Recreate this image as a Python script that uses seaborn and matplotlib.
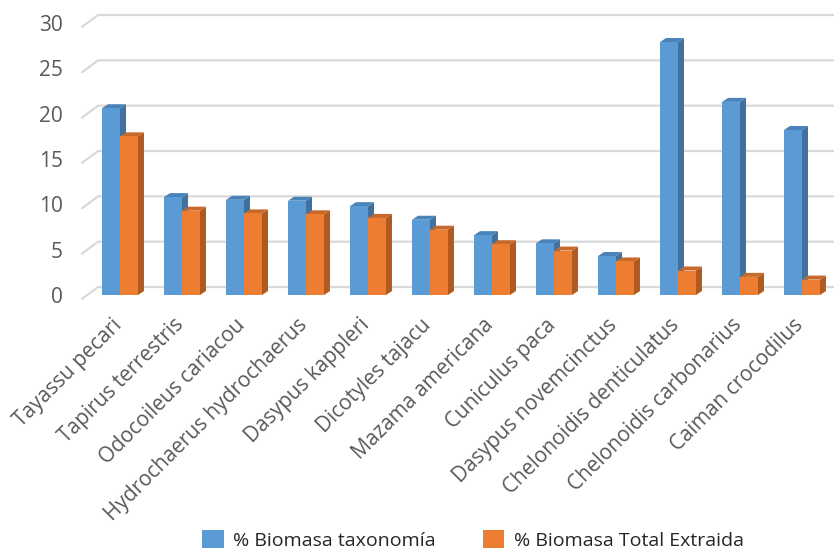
import matplotlib
matplotlib.use("Agg")
import matplotlib.pyplot as plt
import seaborn as sns
import pandas as pd
from matplotlib.patches import Polygon, Patch
from matplotlib.lines import Line2D
from matplotlib.transforms import ScaledTranslation

especies = [
    "Tayassu pecari", "Tapirus terrestris", "Odocoileus cariacou",
    "Hydrochaerus hydrochaerus", "Dasypus kappleri", "Dicotyles tajacu",
    "Mazama americana", "Cuniculus paca", "Dasypus novemcinctus",
    "Chelonoidis denticulatus", "Chelonoidis carbonarius", "Caiman crocodilus",
]
biomasa_taxonomia = [20.6, 10.8, 10.5, 10.4, 9.8, 8.3, 6.6, 5.7, 4.3, 27.9, 21.3, 18.2]
biomasa_extraida = [17.5, 9.3, 9.0, 8.9, 8.5, 7.2, 5.6, 4.9, 3.7, 2.7, 2.0, 1.7]
series = ["% Biomasa taxonomía", "% Biomasa Total Extraida"]
y_ticks = [0, 5, 10, 15, 20, 25, 30]

front = {series[0]: "#5B9BD5", series[1]: "#ED7D31"}
side = {series[0]: "#41719C", series[1]: "#AE5A21"}
top = {series[0]: "#4A83BA", series[1]: "#C8682A"}
text_color = "#595959"
grid_color = "#D9D9D9"

df = pd.DataFrame({
    "especie": especies * 2,
    "serie": [series[0]] * len(especies) + [series[1]] * len(especies),
    "valor": biomasa_taxonomia + biomasa_extraida,
})

sns.set_theme(style="white")
plt.rcParams["font.family"] = ["Open Sans", "DejaVu Sans"]

W, H = 834, 553
fig = plt.figure(figsize=(W / 100, H / 100), dpi=100)
ax_left, ax_right = 89, 833
ax_top, ax_bottom = 23, 295
ax = fig.add_axes([ax_left / W, 1 - ax_bottom / H,
                   (ax_right - ax_left) / W, (ax_bottom - ax_top) / H])

sns.barplot(data=df, x="especie", y="valor", hue="serie", palette=front,
            width=0.58, dodge=True, ax=ax, legend=False, saturation=1,
            linewidth=0, zorder=3)

ax.set_xlim(-0.5, len(especies) - 0.5)
ax.set_ylim(0, 30)
for s in ax.spines.values():
    s.set_visible(False)
ax.grid(False)
ax.set_xlabel("")
ax.set_ylabel("")

# back-wall gridlines with a short perspective edge on the left
DX, DY = 16, 12          # depth of the floor/wall in pixels
GY = 8                   # back wall sits a few pixels above the bar fronts
for v in y_ticks:
    x0, y0 = ax.transData.transform((ax.get_xlim()[0], v))
    yb = y0 + GY
    ax.add_line(Line2D([x0 - 7, x0 - 7 + DX, W + 5], [yb - DY, yb, yb],
                       transform=None, color=grid_color, lw=1.6,
                       zorder=1, clip_on=False))

# 3D side and top faces computed from each drawn bar
d_x, d_y = 6, 4
for ci, cont in enumerate(ax.containers):
    name = series[ci]
    for bar in cont:
        (bx0, by0), (bx1, by1) = ax.transData.transform(
            [(bar.get_x(), 0), (bar.get_x() + bar.get_width(), bar.get_height())])
        z = 2.5 + ci
        ax.add_patch(Polygon([(bx1, by0), (bx1 + d_x, by0 + d_y),
                              (bx1 + d_x, by1 + d_y), (bx1, by1)],
                             closed=True, transform=None, fc=side[name],
                             ec="none", zorder=z, clip_on=False))
        ax.add_patch(Polygon([(bx0, by1), (bx1, by1), (bx1 + d_x, by1 + d_y),
                              (bx0 + d_x, by1 + d_y)],
                             closed=True, transform=None, fc=top[name],
                             ec="none", zorder=z, clip_on=False))
        bar.set_zorder(z + 0.1)

ax.set_yticks(y_ticks)
ax.set_yticklabels([str(t) for t in y_ticks], color=text_color, fontsize=15)
ax.tick_params(axis="y", length=0, pad=19)
ax.set_xticks(range(len(especies)))
ax.set_xticklabels(especies, rotation=45, ha="right", va="top",
                   rotation_mode="anchor", color=text_color, fontsize=15)
ax.tick_params(axis="x", length=0, pad=14)
shift = ScaledTranslation(-9 / 100, 0, fig.dpi_scale_trans)
for lab in ax.get_xticklabels():
    lab.set_transform(lab.get_transform() + shift)

handles = [Patch(facecolor=front[s], edgecolor="none", label=s) for s in series]
fig.legend(handles=handles, loc="upper center", bbox_to_anchor=(0.567, 1 - 514 / H),
           ncol=2, frameon=False, fontsize=14, labelcolor="#262626",
           handlelength=1.1, handleheight=1.1, handletextpad=0.5,
           columnspacing=2.4, borderpad=0.3)

fig.savefig("out.png", dpi=100)
